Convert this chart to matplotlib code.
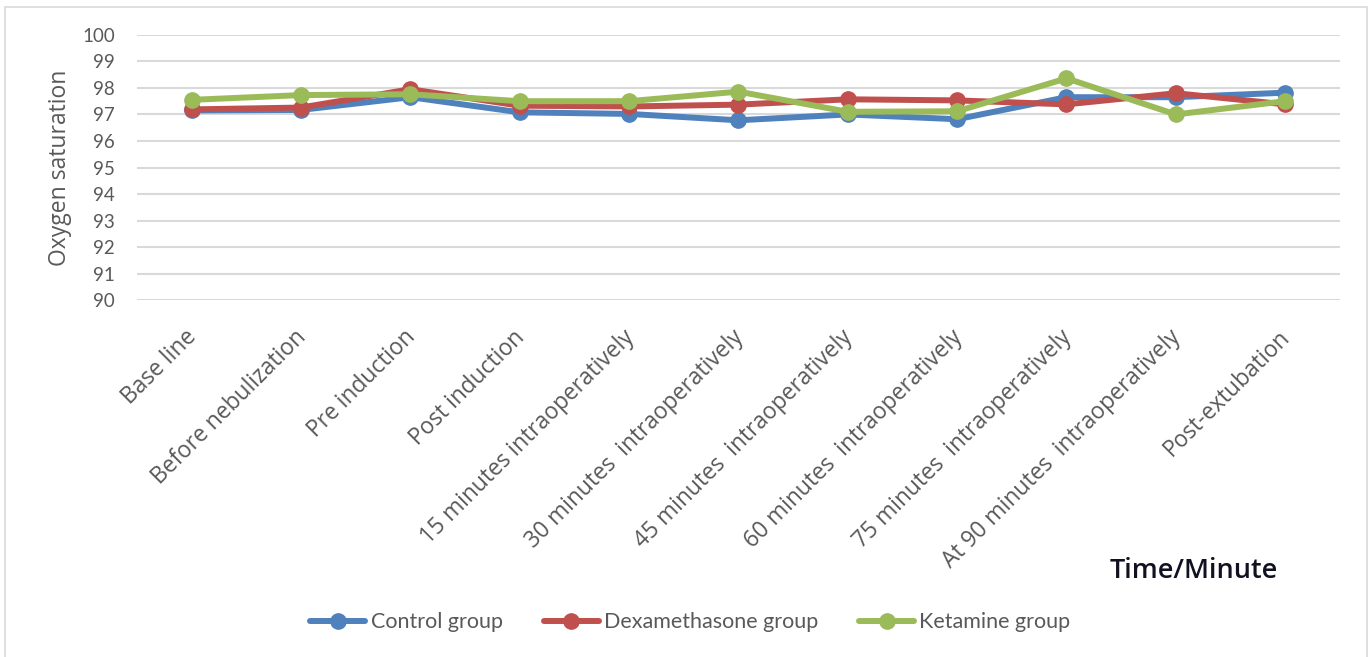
import matplotlib
matplotlib.use('Agg')
import matplotlib.pyplot as plt
import matplotlib.transforms as mtransforms
from matplotlib.patches import Rectangle

plt.rcParams['font.family'] = ['Lato', 'DejaVu Sans']

# --- data ---
time_points = [
    'Base line',
    'Before nebulization',
    'Pre induction',
    'Post induction',
    '15 minutes intraoperatively',
    '30 minutes  intraoperatively',
    '45 minutes  intraoperatively',
    '60 minutes  intraoperatively',
    '75 minutes  intraoperatively',
    'At 90 minutes  intraoperatively',
    'Post-extubation',
]
control = [97.15, 97.17, 97.65, 97.08, 97.02, 96.78, 97.0, 96.82, 97.65, 97.65, 97.82]
dexamethasone = [97.19, 97.26, 97.95, 97.33, 97.3, 97.37, 97.57, 97.53, 97.38, 97.8, 97.38]
ketamine = [97.55, 97.73, 97.76, 97.5, 97.5, 97.86, 97.1, 97.12, 98.36, 97.0, 97.5]
y_ticks = list(range(90, 101))

BLUE = '#4F81BD'
RED = '#C0504D'
GREEN = '#9BBB59'
GREY_TXT = '#595959'
GRID = '#D9D9D9'
OPEN = ['Open Sans', 'DejaVu Sans']

fig = plt.figure(figsize=(13.7, 6.57), dpi=100)
ax = fig.add_axes([0.1, 0.543, 0.878, 0.404])

x = list(range(len(time_points)))
series = [('Control group', control, BLUE),
          ('Dexamethasone group', dexamethasone, RED),
          ('Ketamine group', ketamine, GREEN)]
for name, vals, col in series:
    ax.plot(x, vals, color=col, lw=4.3, marker='o', markersize=11,
            markerfacecolor=col, markeredgecolor=col, label=name,
            solid_capstyle='round')

ax.set_xlim(-0.5, len(time_points) - 0.5)
ax.set_ylim(90, 100)
ax.set_yticks(y_ticks)
ax.set_xticks(x)
ax.set_xticklabels(time_points, rotation=45, ha='right', rotation_mode='anchor',
                   family=OPEN, fontsize=16.4)
ax.tick_params(axis='both', length=0, labelcolor=GREY_TXT)
ax.tick_params(axis='y', pad=16, labelsize=13.5)
ax.tick_params(axis='x', pad=18)

# nudge rotated labels slightly left so their ends sit under the ticks
shift = mtransforms.ScaledTranslation(-7 / 100, 0, fig.dpi_scale_trans)
for lbl in ax.get_xticklabels():
    lbl.set_transform(lbl.get_transform() + shift)

ax.grid(axis='y', color=GRID, lw=1.5)
ax.set_axisbelow(True)
for sp in ax.spines.values():
    sp.set_visible(False)

ax.set_ylabel('Oxygen saturation', fontsize=16.5, color=GREY_TXT, labelpad=7,
              family=OPEN)

fig.text(0.871, 0.131, 'Time/Minute', fontsize=19.5, fontweight='semibold',
         color='#111122', ha='center', va='center', family=OPEN)

fig.legend(loc='center', bbox_to_anchor=(0.504, 0.053), ncol=3, frameon=False,
           fontsize=15.5, labelcolor=GREY_TXT, handlelength=2.55,
           handletextpad=0.25, columnspacing=1.9)

# light outer border like the source chart frame
fig.patches.append(Rectangle((0.004, -0.01), 0.994, 1.0,
                             transform=fig.transFigure, fill=False,
                             edgecolor='#D9D9D9', lw=1.2))

fig.savefig('out.png', dpi=100, facecolor='white')
